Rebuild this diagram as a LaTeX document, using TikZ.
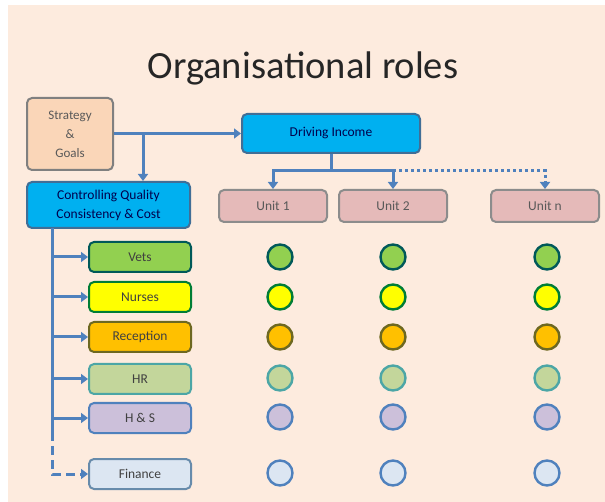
\documentclass[tikz,border=0pt]{standalone}
\usepackage{fontspec}
\setmainfont{Carlito}
\usetikzlibrary{arrows.meta, positioning}
\definecolor{cPeach}{RGB}{253,235,222}
\definecolor{cStrat}{RGB}{250,214,184}
\definecolor{cCyan}{RGB}{0,176,240}
\definecolor{cUnit}{RGB}{229,186,185}
\definecolor{cVets}{RGB}{146,208,80}
\definecolor{cNurse}{RGB}{255,255,0}
\definecolor{cRecep}{RGB}{255,192,0}
\definecolor{cHR}{RGB}{195,214,155}
\definecolor{cHS}{RGB}{204,192,218}
\definecolor{cFin}{RGB}{220,230,242}
\definecolor{cLine}{RGB}{79,129,189}
\definecolor{cEdge}{RGB}{65,110,150}

\begin{document}
\begin{tikzpicture}[x=1pt, y=-1pt,
            box/.style={rectangle, rounded corners=5pt, draw=cEdge, line width=2pt, inner sep=0pt, font=\fontsize{13.5}{16}\selectfont, text=black!75},
            role/.style={box, minimum width=102pt, minimum height=30pt},
            unitbox/.style={box, draw=black!45, fill=cUnit, minimum width=108pt, minimum height=32pt, text=black!65},
            dot/.style={circle, line width=2.4pt, minimum size=25pt, inner sep=0pt},
            ln/.style={draw=cLine, line width=3pt},
            arr/.style={ln, -{Triangle[width=10pt,length=7pt]}}]
            \fill[white] (0,0) rectangle (605,502);
            \fill[cPeach] (8,5) rectangle (605,502);
            \node[font=\fontsize{38.5}{44}\selectfont, text=black!85] (title) at (303,68) {Organisational roles};
            % top boxes
            \node[box, draw=black!50, fill=cStrat, minimum width=86pt, minimum height=72pt, align=center, font=\fontsize{13}{19}\selectfont, text=black!65] (strat) at (70,134) {Strategy\\\&\\Goals};
            \node[box, fill=cCyan, minimum width=178pt, minimum height=39pt, text=blue!30!black] (drive) at (331,133.5) {Driving Income};
            \node[box, fill=cCyan, minimum width=163pt, minimum height=46pt, align=center, font=\fontsize{13.5}{19}\selectfont, text=blue!30!black] (ctrl) at (108.5,205) {Controlling Quality\\Consistency \& Cost};
            \node[unitbox] (u1) at (273,206) {Unit 1};
            \node[unitbox] (u2) at (393,206) {Unit 2};
            \node[unitbox] (un) at (545,206) {Unit n};
            % roles
            \node[role, fill=cVets, draw=teal!70!black] (vets) at (140,257) {Vets};
            \node[role, fill=cNurse, draw=teal!60!green!70!black] (nurse) at (140,297) {Nurses};
            \node[role, fill=cRecep, draw=olive!70!black] (recep) at (140,337) {Reception};
            \node[role, fill=cHR, draw=teal!70] (hr) at (140,379) {HR};
            \node[role, fill=cHS, draw=cLine] (hs) at (140,418) {H \& S};
            \node[role, fill=cFin, draw=cEdge!80] (fin) at (140,474) {Finance};
            % unit circles
            \node[dot, fill=cVets, draw=teal!70!black]  (v1) at (280,257) {};
            \node[dot, fill=cVets, draw=teal!70!black]  (v2) at (393,257) {};
            \node[dot, fill=cVets, draw=teal!70!black]  (vn) at (547,257) {};
            \node[dot, fill=cNurse, draw=teal!60!green!70!black] (n1) at (280,297) {};
            \node[dot, fill=cNurse, draw=teal!60!green!70!black] (n2) at (393,297) {};
            \node[dot, fill=cNurse, draw=teal!60!green!70!black] (nn) at (547,297) {};
            \node[dot, fill=cRecep, draw=olive!70!black] (r1) at (280,337) {};
            \node[dot, fill=cRecep, draw=olive!70!black] (r2) at (393,337) {};
            \node[dot, fill=cRecep, draw=olive!70!black] (rn) at (547,337) {};
            \node[dot, fill=cHR, draw=teal!70] (h1) at (280,378) {};
            \node[dot, fill=cHR, draw=teal!70] (h2) at (393,378) {};
            \node[dot, fill=cHR, draw=teal!70] (hn) at (547,378) {};
            \node[dot, fill=cHS, draw=cLine] (s1) at (280,417) {};
            \node[dot, fill=cHS, draw=cLine] (s2) at (393,417) {};
            \node[dot, fill=cHS, draw=cLine] (sn) at (547,417) {};
            \node[dot, fill=cFin, draw=cLine] (f1) at (280,473) {};
            \node[dot, fill=cFin, draw=cLine] (f2) at (393,473) {};
            \node[dot, fill=cFin, draw=cLine] (fn) at (547,473) {};
            % connectors
            \coordinate (brA) at (143,133);
            \coordinate (bus) at (331,171);
            \coordinate (spTop) at (52,228);
            \coordinate (spMid) at (52,432);
            \draw[arr] (strat.east |- drive.west) -- (drive.west);
            \draw[arr] (brA) -- (brA |- ctrl.north);
            \draw[ln] (drive.south) -- (bus);
            \draw[arr] (bus) -| (u1.north);
            \draw[arr] (bus) -| (u2.north);
            \draw[arr, dash pattern=on 3pt off 3pt] (u2.north |- bus) -| (un.north);
            \draw[ln] (spTop) -- (spMid);
            \draw[arr] (vets -| spTop) -- (vets.west);
            \draw[arr] (nurse -| spTop) -- (nurse.west);
            \draw[arr] (recep -| spTop) -- (recep.west);
            \draw[arr] (hr -| spTop) -- (hr.west);
            \draw[arr] (hs -| spTop) -- (hs.west);
            \draw[arr, dash pattern=on 9pt off 5pt] (spMid) |- (fin.west);
        \end{tikzpicture}
\end{document}
